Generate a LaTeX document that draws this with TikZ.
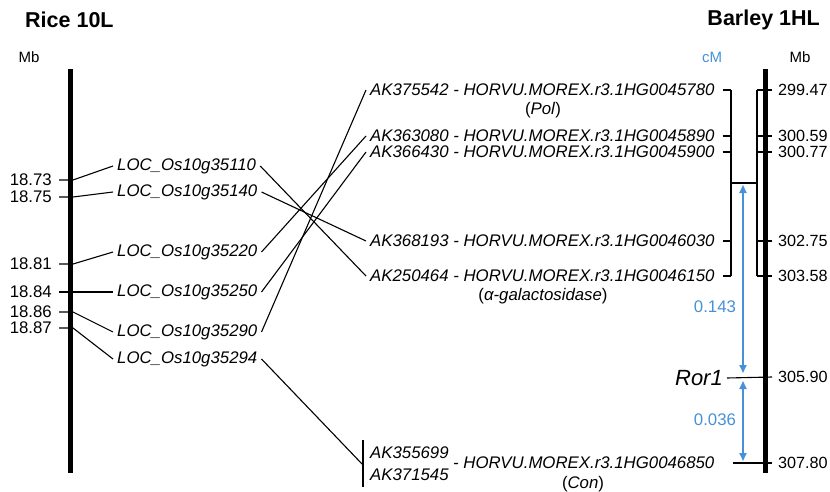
\documentclass[tikz,border=0pt]{standalone}
\usepackage{fontspec}
\setmainfont{Liberation Sans}
\usetikzlibrary{arrows.meta,positioning}
\definecolor{cmblue}{RGB}{70,145,215}

\begin{document}
\begin{tikzpicture}[x=1pt, y=-1pt,
        every node/.style={font=\fontsize{16.8}{18}\selectfont, inner xsep=4pt, inner ysep=0.5pt},
        title/.style={font=\fontsize{21.5}{24}\selectfont\bfseries},
        unit/.style={font=\fontsize{15}{16}\selectfont},
        gene/.style={anchor=west, font=\fontsize{16.8}{18}\selectfont\itshape},
        note/.style={font=\fontsize{16.8}{18}\selectfont},
        mbleft/.style={anchor=east},
        mbright/.style={anchor=west, font=\fontsize{16.2}{18}\selectfont, inner xsep=2pt},
        chrom/.style={line width=5pt},
        link/.style={line width=1.1pt},
        dist/.style={{Triangle[width=7pt,length=8pt]}-{Triangle[width=7pt,length=8pt]},
            draw=cmblue, line width=1.8pt},
        cmtext/.style={text=cmblue}
      ]
      \useasboundingbox (0,0) rectangle (830,492);

      \node[title, anchor=west] (rice) at (21,20) {Rice 10L};
      \node[title, anchor=east] (barley) at (824,20) {Barley 1HL};
      \node[unit] (mbl) at (29,57) {Mb};
      \node[unit, cmtext] (cm) at (712,57) {cM};
      \node[unit] (mbr) at (800,57) {Mb};

      \coordinate (ricetop) at (70,69);
      \coordinate (ricebot) at (70,473);
      \coordinate (barleytop) at (765,69);
      \coordinate (barleybot) at (765,473);
      \draw[chrom] (ricetop) -- (ricebot);
      \draw[chrom] (barleytop) -- (barleybot);

      \node[mbleft] (p73) at (56,180) {18.73};
      \node[mbleft] (p75) at (56,197) {18.75};
      \node[mbleft] (p81) at (56,264) {18.81};
      \node[mbleft] (p84) at (56,292) {18.84};
      \node[mbleft] (p86) at (56,312) {18.86};
      \node[mbleft] (p87) at (56,328) {18.87};

      \node[gene] (g110) at (113,166) {LOC\_Os10g35110};
      \node[gene] (g140) at (113,192) {LOC\_Os10g35140};
      \node[gene] (g220) at (113,252) {LOC\_Os10g35220};
      \node[gene] (g250) at (113,292) {LOC\_Os10g35250};
      \node[gene] (g290) at (113,332) {LOC\_Os10g35290};
      \node[gene] (g294) at (113,359) {LOC\_Os10g35294};

      \draw[link] ([xshift=3pt]p73.east) -- ([xshift=17pt]p73.east) -- (g110.west);
      \draw[link] ([xshift=3pt]p75.east) -- ([xshift=17pt]p75.east) -- (g140.west);
      \draw[link] ([xshift=3pt]p81.east) -- ([xshift=17pt]p81.east) -- (g220.west);
      \draw[link] ([xshift=3pt]p84.east) -- ([xshift=17pt]p84.east) -- (g250.west);
      \draw[link] ([xshift=3pt]p86.east) -- ([xshift=17pt]p86.east) -- (g290.west);
      \draw[link] ([xshift=3pt]p87.east) -- ([xshift=17pt]p87.east) -- (g294.west);

      \node[gene] (ak780) at (366,90) {AK375542 - HORVU.MOREX.r3.1HG0045780};
      \node[note] (pol) at (543,110) {(\textit{Pol})};
      \node[gene] (ak890) at (366,136) {AK363080 - HORVU.MOREX.r3.1HG0045890};
      \node[gene] (ak900) at (366,152) {AK366430 - HORVU.MOREX.r3.1HG0045900};
      \node[gene] (ak030) at (366,241) {AK368193 - HORVU.MOREX.r3.1HG0046030};
      \node[gene] (ak150) at (366,276) {AK250464 - HORVU.MOREX.r3.1HG0046150};
      \node[note] (gal) at (543,296) {(\textit{α-galactosidase})};
      \node[gene] (ak699) at (366,453) {AK355699};
      \node[gene] (ak545) at (366,475) {AK371545};
      \node[gene] (hv850) at (449,463) {- HORVU.MOREX.r3.1HG0046850};
      \node[note] (con) at (583,484) {(\textit{Con})};

      \coordinate (pairtop) at (363,440);
      \coordinate (pairbot) at (363,487);
      \coordinate (pairjoin) at (363,465);
      \draw[link] (pairtop) -- (pairbot);

      \draw[link] (g110.east) -- (ak150.west);
      \draw[link] (g140.east) -- (ak030.west);
      \draw[link] (g220.east) -- (ak890.west);
      \draw[link] (g250.east) -- (ak900.west);
      \draw[link] (g290.east) -- (ak780.west);
      \draw[link] (g294.east) -- (pairjoin);

      \node[mbright] (mb47) at (776,90) {299.47};
      \node[mbright] (mb59) at (776,136) {300.59};
      \node[mbright] (mb77) at (776,152) {300.77};
      \node[mbright] (mb75) at (776,241) {302.75};
      \node[mbright] (mb58) at (776,276) {303.58};
      \node[mbright] (mb90) at (776,377) {305.90};
      \node[mbright] (mb80) at (776,463) {307.80};

      \coordinate (cmtop) at (731,90);
      \coordinate (cmbot) at (731,276);
      \coordinate (mbtop) at (757,90);
      \coordinate (mbbot) at (757,276);
      \coordinate (cmmid) at (731,183);
      \coordinate (mbmid) at (757,183);
      \draw[link] (cmtop) -- (cmbot);
      \draw[link] (mbtop) -- (mbbot);
      \draw[link] (cmmid) -- (mbmid);

      \draw[link] ([xshift=4pt]ak780.east) -- (cmtop);
      \draw[link] ([xshift=4pt]ak890.east) -- (731,136);
      \draw[link] ([xshift=4pt]ak900.east) -- (731,152);
      \draw[link] ([xshift=4pt]ak030.east) -- (731,241);
      \draw[link] ([xshift=4pt]ak150.east) -- (cmbot);
      \draw[link] (mbtop) -- ([xshift=-4pt]mb47.west);
      \draw[link] (757,136) -- ([xshift=-4pt]mb59.west);
      \draw[link] (757,152) -- ([xshift=-4pt]mb77.west);
      \draw[link] (757,241) -- ([xshift=-4pt]mb75.west);
      \draw[link] (mbbot) -- ([xshift=-4pt]mb58.west);

      \node[anchor=east, font=\fontsize{22}{24}\selectfont\itshape] (ror) at (727,378) {Ror1};
      \draw[link] (ror.east) -- ([xshift=-4pt]mb90.west);
      \draw[link] ([xshift=14pt]hv850.east) -- ([xshift=-4pt]mb80.west);

      \coordinate (d1top) at (743,185);
      \coordinate (d1bot) at (743,373);
      \coordinate (d2top) at (743,381);
      \coordinate (d2bot) at (743,461);
      \draw[dist] (d1top) -- (d1bot);
      \draw[dist] (d2top) -- (d2bot);
      \node[cmtext] (cm143) at (715,307) {0.143};
      \node[cmtext] (cm036) at (715,420) {0.036};
    \end{tikzpicture}
\end{document}
